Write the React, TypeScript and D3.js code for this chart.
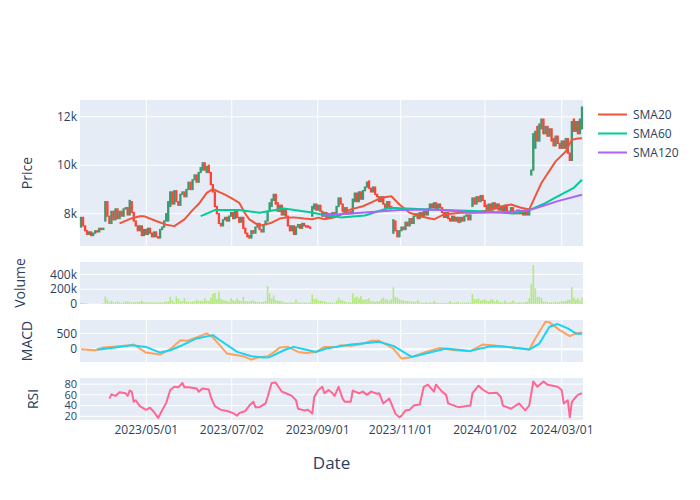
import React from "react";
import * as d3 from "d3";

const W = 700;
const H = 500;
const LEFT = 80;
const RIGHT = 583;
const FONT = '"Open Sans", verdana, arial, sans-serif';
const INK = "#2a3f5f";
const BG = "#E5ECF6";

// trading-day candles (index = trading day)
const opens = [
  7450,7850,7500,7300,7150,7250,7100,7200,7300,7250,7400,7350,
  7700,8500,7900,7600,8100,7750,8200,7800,8100,7900,8200,8250,
  7950,8500,8050,7700,7500,7300,7500,7100,7350,7150,7400,7200,
  7050,7250,7050,7000,7350,7450,7700,7700,8300,8900,8400,8950,
  8500,8350,8800,8900,8700,9000,9300,9000,9400,9600,9300,9700,
  9800,10100,9700,10000,9700,9200,8900,8300,8000,7600,7500,7750,
  7850,7700,7900,8050,7800,8100,7850,7650,7850,7400,7200,7100,
  7000,7300,7200,7450,7600,7350,7250,7550,7700,8100,8300,8550,
  8800,8450,8100,8350,7950,8200,7900,7500,7300,7500,7150,7450,
  7550,7400,7600,7500,7500,7450,7900,8200,8400,8150,8350,8100,
  7900,8050,7850,8000,7850,8050,7950,8300,8650,8400,8100,8250,
  8000,8100,8000,8500,8850,8500,8900,8600,8950,9100,9350,9050,
  8900,9100,8800,8700,8500,8700,8400,8250,8500,8300,7200,7700,
  7300,7050,7300,7450,7350,7650,7500,7800,7600,7900,8000,7800,
  8050,7900,8100,7950,8200,8400,8250,8450,8200,8400,8250,8050,
  7850,8050,7800,7700,7900,7700,7850,7650,7850,7700,7900,7950,
  7750,8300,8650,8400,8700,8500,8750,8550,8350,8150,8400,8150,
  8450,8200,8400,8150,8300,8100,8350,8100,8050,8250,8050,8000,
  8150,8000,8100,7950,8150,7950,9600,9800,10700,11600,11000,11500,
  11900,11300,11600,11200,11500,11100,10800,11200,10900,10700,11000,10700,
  11100,10500,10200,11900,11400,11800,11300,11500,
];
const closes = [
  7850,7500,7300,7150,7250,7100,7200,7300,7250,7400,7350,7400,
  8500,7900,7600,8100,7750,8200,7800,8100,7900,8200,8250,7950,
  8550,8050,7700,7500,7300,7500,7100,7350,7150,7400,7200,7050,
  7250,7050,7000,7350,7450,7700,8000,8500,8900,8400,8950,8500,
  8350,8800,8900,8700,9000,9300,9000,9400,9600,9300,9700,9900,
  10100,9800,9950,9700,9200,8900,8300,8000,7600,7500,7750,7850,
  7700,7900,8050,7800,8100,7850,7650,7850,7400,7200,7050,7000,
  7300,7200,7450,7600,7350,7250,7550,7700,8100,8450,8600,8800,
  8400,8100,8350,7950,8200,7900,7500,7300,7500,7150,7450,7550,
  7400,7600,7500,7450,7450,7400,8300,8400,8150,8350,8100,7900,
  8050,7850,8000,7850,8050,7950,8300,8650,8400,8100,8250,8000,
  8050,8000,8600,8850,8500,8900,8600,8950,9100,9300,9050,8900,
  9100,8800,8700,8500,8700,8400,8250,8500,8200,8200,7750,7300,
  7050,7300,7450,7350,7650,7500,7800,7600,7900,8000,7800,8050,
  7900,8100,7950,8200,8400,8250,8450,8200,8400,8250,8050,7850,
  8050,7800,7700,7900,7700,7850,7650,7850,7700,7900,7950,7750,
  7950,8650,8400,8700,8500,8750,8550,8300,8150,8400,8150,8450,
  8200,8400,8150,8300,8100,8350,8100,8050,8250,8050,8000,8150,
  8000,8100,7950,8150,7950,8200,9800,11300,11400,11000,11700,11900,
  11300,11600,11200,11500,11000,10800,11200,10900,10700,11000,10700,11100,
  10500,10200,11800,11400,11800,11300,11900,12400,
];
// volume in thousands
const volumeK = [
  15,14,12,8,6,5,5,4,6,5,8,10,
  102,58,26,44,26,20,35,20,15,20,35,35,
  30,20,25,25,26,30,45,25,22,20,25,22,
  18,20,25,22,18,25,35,35,101,48,21,101,
  70,35,40,75,35,30,25,35,30,57,40,44,
  40,79,44,40,88,137,150,66,168,70,53,48,
  44,35,79,53,40,75,48,40,97,40,35,35,
  40,48,35,26,26,26,30,40,244,146,75,115,
  53,44,40,35,21,20,18,21,20,21,62,21,
  18,15,20,18,15,20,128,66,75,48,44,40,
  35,26,21,20,21,15,44,88,53,44,35,26,
  21,21,146,88,101,79,110,57,62,62,79,35,
  35,30,35,35,66,88,62,62,44,62,226,93,
  88,62,53,48,44,40,35,30,35,26,53,21,
  20,15,26,18,20,15,44,20,15,13,20,15,
  13,18,40,20,15,26,35,15,20,18,21,18,
  20,133,66,66,75,48,53,66,44,40,62,62,
  35,57,35,26,21,48,20,18,26,48,21,18,
  26,21,18,26,30,79,270,524,213,93,97,79,
  35,30,26,21,26,21,30,21,26,35,40,40,
  57,57,226,88,57,79,44,88,
];

const sma20Days = [19,24,29,31,37,42,46,51,55,58,62,65,68,71,75,78,81,83,86,89,94,98,101,105,110,114,117,120,125,129,133,139,144,148,153,157,162,167,174,179,187,194,201,207,212,217,221,227,234,239,242,245,247];
const sma20 = [7600,7780,7900,7900,7700,7550,7490,7770,8150,8400,8860,9020,8900,8790,8600,8450,8000,7770,7600,7520,7630,7800,7840,7850,7800,7770,7840,7770,7850,8000,8180,8310,8500,8660,8720,8380,8040,7900,7770,7970,8040,8040,8140,8300,8380,8250,8180,9270,10160,10570,11050,11100,11110];
const sma60Days = [59,66,78,88,100,113,120,128,140,152,172,197,213,221,228,235,243,247];
const sma60 = [7900,8150,8150,8040,8215,8060,7950,7850,7930,8245,8175,8105,8010,8150,8400,8720,9070,9400];
const sma120Days = [119,133,157,173,197,213,221,228,235,247];
const sma120 = [7930,8010,8150,8175,8040,8080,8150,8330,8520,8780];

const macdDays = [0,7,11,17,24,26,32,39,44,49,52,57,62,65,72,77,80,84,87,92,95,98,102,107,111,116,120,126,128,133,138,143,147,151,154,158,162,170,177,184,192,198,205,215,221,224,229,231,236,241,244,247];
const macd = [0,-32,53,90,127,150,-106,-170,0,287,265,372,500,372,-138,-191,-223,-329,-265,-223,-100,53,74,-85,-117,-85,74,74,127,106,159,265,265,127,21,-297,-265,-85,42,-32,-64,148,106,42,-11,340,870,850,605,414,500,530];
const signalDays = [8,15,25,32,39,44,50,57,65,68,77,84,90,93,100,105,110,116,121,126,133,140,147,154,163,170,180,192,202,208,221,226,231,235,240,244,247];
const signal = [-15,42,127,74,-106,-32,127,340,446,308,-85,-223,-265,-250,-32,74,0,-85,21,74,148,190,233,106,-244,-138,21,-53,96,90,-11,180,711,796,658,500,478];

const rsiDays = [14,15,17,19,22,23,24,25,26,27,29,32,34,36,38,40,42,44,46,48,50,51,53,57,58,60,63,64,66,69,72,75,77,78,81,83,85,86,88,91,92,94,96,97,99,101,104,106,107,110,112,114,115,117,119,120,122,124,125,127,129,130,133,134,137,139,141,143,146,147,149,151,152,155,157,158,160,162,164,167,169,171,174,175,178,180,181,184,186,192,193,196,198,201,205,207,208,212,216,219,221,223,225,228,230,235,237,238,240,241,242,244,245,247];
const rsi = [53,61,58,65,63,58,68,66,47,50,39,32,36,28,17,31,45,69,75,74,82,74,74,72,66,72,70,56,39,32,30,26,21,26,30,40,47,37,37,44,56,82,83,77,66,63,58,50,34,31,32,25,56,69,75,63,69,63,58,75,53,47,47,68,63,66,60,66,62,63,44,50,53,25,18,21,31,32,40,42,75,79,66,79,66,60,44,40,37,40,63,77,70,63,64,56,40,34,44,31,40,85,75,85,79,75,69,44,50,18,47,56,60,63];

const xTickDays = [32.2, 74.3, 116.7, 157.6, 199.2, 237];
const xTickLabels = ["2023/05/01", "2023/07/02", "2023/09/01", "2023/11/01", "2024/01/02", "2024/03/01"];

const legendNames = ["SMA20", "SMA60", "SMA120"];
const colors = {
  up: "#3D9970",
  down: "#FF4136",
  sma20: "#EF553B",
  sma60: "#00CC96",
  sma120: "#AB63FA",
  volume: "#B6E880",
  macd: "#FFA15A",
  signal: "#19D3F3",
  rsi: "#FF6692",
};

const panels = {
  price: { top: 100, bottom: 246, domain: [6670, 12690], ticks: [8000, 10000, 12000], fmt: (v: number) => `${v / 1000}k`, title: "Price", titleX: 27, fs: 12 },
  volume: { top: 262, bottom: 304, domain: [0, 568], ticks: [0, 200, 400], fmt: (v: number) => (v === 0 ? "0" : `${v}k`), title: "Volume", titleX: 20, fs: 12 },
  macd: { top: 320, bottom: 362, domain: [-404, 924], ticks: [0, 500], fmt: (v: number) => `${v}`, title: "MACD", titleX: 27, fs: 12 },
  rsi: { top: 378, bottom: 420, domain: [13.1, 91.4], ticks: [20, 40, 60, 80], fmt: (v: number) => `${v}`, title: "RSI", titleX: 33, fs: 11 },
};

type Panel = typeof panels.price;

const x = d3.scaleLinear().domain([-0.5, opens.length - 0.5]).range([LEFT, RIGHT]);
const yOf = (p: Panel) => d3.scaleLinear().domain(p.domain).range([p.bottom, p.top]);

const PanelFrame = ({ p, vgrid, zero }: { p: Panel; vgrid: boolean; zero?: number }) => {
  const y = yOf(p);
  return (
    <g>
      <rect x={LEFT} y={p.top} width={RIGHT - LEFT} height={p.bottom - p.top} fill={BG} />
      {vgrid && xTickDays.map((d, i) => (
        <line key={"v" + i} x1={x(d)} x2={x(d)} y1={p.top} y2={p.bottom} stroke="#fff" strokeWidth={1} />
      ))}
      {p.ticks.map((t) => (
        <line key={"h" + t} x1={LEFT} x2={RIGHT} y1={y(t)} y2={y(t)} stroke="#fff" strokeWidth={t === zero ? 2 : 1} />
      ))}
      {p.ticks.map((t) => (
        <text key={"t" + t} x={LEFT - 3} y={y(t)} dy="0.35em" textAnchor="end" fontSize={p.fs} fill={INK} fontFamily={FONT}>
          {p.fmt(t)}
        </text>
      ))}
      <text
        transform={`translate(${p.titleX},${(p.top + p.bottom) / 2}) rotate(-90)`}
        dy="0.35em"
        textAnchor="middle"
        fontSize={14}
        fill={INK}
        fontFamily={FONT}
      >
        {p.title}
      </text>
    </g>
  );
};

const linePath = (days: number[], vals: number[], y: d3.ScaleLinear<number, number>) =>
  d3.line<number>().x((d) => x(d)).y((_, i) => y(vals[i]))(days) || "";

export default function App() {
  const yP = yOf(panels.price);
  const yV = yOf(panels.volume);
  const yM = yOf(panels.macd);
  const yR = yOf(panels.rsi);
  const step = x(1) - x(0);
  const bw = step * 0.55;

  return (
    <svg width={W} height={H} style={{ position: "absolute", left: 0, top: 0, background: "#fff" }}>
      <PanelFrame p={panels.price} vgrid={true} />
      <PanelFrame p={panels.volume} vgrid={false} zero={0} />
      <PanelFrame p={panels.macd} vgrid={true} zero={0} />
      <PanelFrame p={panels.rsi} vgrid={true} />

      {/* candles */}
      <g>
        {opens.map((o, i) => {
          const c = closes[i];
          const col = c >= o ? colors.up : colors.down;
          const top = yP(Math.max(o, c));
          const h = Math.max(yP(Math.min(o, c)) - top, 0.5);
          return <rect key={i} x={x(i) - bw / 2} y={top} width={bw} height={h} fill={col} stroke={col} strokeWidth={1.2} />;
        })}
      </g>

      <g fill="none" strokeWidth={2} strokeLinejoin="round">
        <path d={linePath(sma20Days, sma20, yP)} stroke={colors.sma20} />
        <path d={linePath(sma60Days, sma60, yP)} stroke={colors.sma60} />
        <path d={linePath(sma120Days, sma120, yP)} stroke={colors.sma120} />
      </g>

      {/* volume */}
      <g>
        {volumeK.map((v, i) => (
          <rect key={i} x={x(i) - step * 0.4} y={yV(v)} width={step * 0.8} height={yV(0) - yV(v)} fill={colors.volume} />
        ))}
      </g>

      <g fill="none" strokeWidth={2} strokeLinejoin="round">
        <path d={linePath(macdDays, macd, yM)} stroke={colors.macd} />
        <path d={linePath(signalDays, signal, yM)} stroke={colors.signal} />
        <path d={linePath(rsiDays, rsi, yR)} stroke={colors.rsi} />
      </g>

      {/* x ticks */}
      {xTickDays.map((d, i) => (
        <text key={i} x={x(d)} y={430} dy="0.35em" textAnchor="middle" fontSize={12} fill={INK} fontFamily={FONT}>
          {xTickLabels[i]}
        </text>
      ))}
      <text x={(LEFT + RIGHT) / 2} y={463} dy="0.35em" textAnchor="middle" fontSize={17} fill={INK} fontFamily={FONT}>
        Date
      </text>

      {/* legend */}
      {legendNames.map((n, i) => {
        const ly = 114.5 + i * 19;
        const col = [colors.sma20, colors.sma60, colors.sma120][i];
        return (
          <g key={n}>
            <line x1={598} x2={627} y1={ly} y2={ly} stroke={col} strokeWidth={2} />
            <text x={633} y={ly} dy="0.35em" fontSize={12} fill={INK} fontFamily={FONT}>
              {n}
            </text>
          </g>
        );
      })}
    </svg>
  );
}
